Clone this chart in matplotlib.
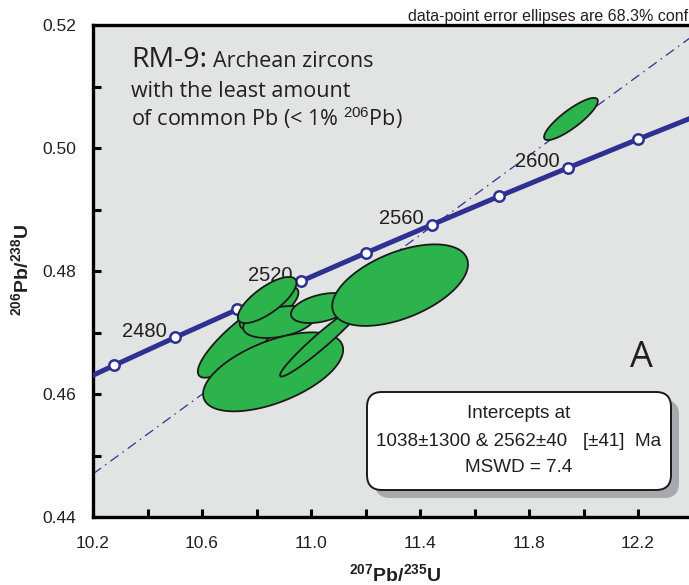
import numpy as np
import matplotlib
matplotlib.use("Agg")
import matplotlib.pyplot as plt
from matplotlib.patches import FancyBboxPatch
from matplotlib.ticker import FixedLocator, NullFormatter

# ---------------- data ----------------
# Concordia curve (ages in Ma) and its 207Pb/235U, 206Pb/238U coordinates
conc_age = [2440, 2460, 2480, 2500, 2520, 2540, 2560, 2580, 2600, 2620, 2640]
conc_x = [10.057, 10.277, 10.501, 10.730, 10.963, 11.201, 11.444, 11.691, 11.944, 12.201, 12.464]
conc_y = [0.46010, 0.46464, 0.46919, 0.47375, 0.47833, 0.48293, 0.48753, 0.49216, 0.49679, 0.50144, 0.50610]
marker_ages = [2460, 2480, 2500, 2520, 2540, 2560, 2580, 2600, 2620]
label_ages = [2480, 2520, 2560, 2600]

# Discordia (regression) line end points
disc_x = [10.2, 12.4]
disc_y = [0.4470, 0.5182]

# Error ellipses: centre, half-extent in x and y, correlation (drawing order)
ell_cx = [10.758, 10.846, 10.883, 10.839, 10.861, 11.040, 11.040, 11.327, 11.954]
ell_cy = [0.46927, 0.47398, 0.47171, 0.47528, 0.46360, 0.46878, 0.47398, 0.47770, 0.50472]
ell_hx = [0.1732, 0.1079, 0.1320, 0.1075, 0.2570, 0.1534, 0.1138, 0.2490, 0.0987]
ell_hy = [0.00662, 0.00350, 0.00260, 0.003756, 0.00642, 0.00593, 0.00244, 0.00663, 0.00343]
ell_rho = [0.849, 0.713, 0.35, 0.742, 0.56, 0.965, 0.40, 0.513, 0.854]

x_major = [10.2, 10.6, 11.0, 11.4, 11.8, 12.2]
x_minor = [10.4, 10.8, 11.2, 11.6, 12.0, 12.4]
y_major = [0.44, 0.46, 0.48, 0.50, 0.52]
y_minor = [0.45, 0.47, 0.49, 0.51]

title_text = "RM-9:"
subtitle_lines = ["Archean zircons", "with the least amount"]
box_lines = ["Intercepts at", "1038\u00b11300 & 2562\u00b140   [\u00b141]  Ma", "MSWD = 7.4"]
note_text = "data-point error ellipses are 68.3% conf."

# ---------------- style ----------------
W, H = 689, 585
NAVY = "#2e3192"
GREEN = "#2db34b"
BG = "#e2e3e3"
SANS = ["Liberation Sans", "DejaVu Sans"]
MYR = ["Open Sans", "DejaVu Sans"]
INK = "#231f20"

plt.rcParams["mathtext.fontset"] = "custom"
plt.rcParams["mathtext.rm"] = "Liberation Sans"
plt.rcParams["mathtext.bf"] = "Liberation Sans:bold"

fig = plt.figure(figsize=(W / 100, H / 100), dpi=100)

def fx(px):
    return px / W

def fy(py):
    return 1 - py / H

# axes: left spine at px 93, bottom at 517, top at 25; extends past right edge
ax_left, ax_bottom, ax_top = 93, 517, 25
x0, x1 = 10.2, 12.6
px_per_unit = 272.5
ax_w = (x1 - x0) * px_per_unit
ax = fig.add_axes([fx(ax_left), fy(ax_bottom), ax_w / W, (ax_bottom - ax_top) / H])
ax.set_xlim(x0, x1)
ax.set_ylim(0.44, 0.52)
ax.set_facecolor(BG)
for s in ["left", "bottom", "top"]:
    ax.spines[s].set_linewidth(2.4)
ax.spines["right"].set_visible(False)

ax.xaxis.set_major_locator(FixedLocator(x_major))
ax.xaxis.set_minor_locator(FixedLocator(x_minor))
ax.yaxis.set_major_locator(FixedLocator(y_major))
ax.yaxis.set_minor_locator(FixedLocator(y_minor))
ax.set_xticklabels([f"{v:.1f}" for v in x_major], fontfamily=SANS, fontsize=12.5, color=INK)
ax.set_yticklabels([f"{v:.2f}" for v in y_major], fontfamily=SANS, fontsize=12.5, color=INK)
ax.xaxis.set_minor_formatter(NullFormatter())
ax.yaxis.set_minor_formatter(NullFormatter())
ax.tick_params(which="both", direction="in", length=6, width=2.2, color="black")
ax.tick_params(axis="y", which="both", pad=12)
ax.tick_params(axis="x", which="both", pad=14)

# discordia
ax.plot(disc_x, disc_y, color=NAVY, lw=0.9, dashes=(8, 4, 1.2, 4), zorder=2)

# concordia
ax.plot(conc_x, conc_y, color=NAVY, lw=3.6, solid_capstyle="butt", zorder=3)
mx = [conc_x[conc_age.index(a)] for a in marker_ages]
my = [conc_y[conc_age.index(a)] for a in marker_ages]
ax.plot(mx, my, "o", ms=7.5, mfc="white", mec=NAVY, mew=1.8, zorder=4, clip_on=False)
for a in label_ages:
    i = conc_age.index(a)
    ax.annotate(str(a), (conc_x[i], conc_y[i]), xytext=(-6, 4.5), textcoords="offset points",
                ha="right", va="center", fontsize=14.5, fontfamily=SANS, color=INK, zorder=3.5)

# ellipses
t = np.linspace(0, 2 * np.pi, 240)
for k in range(len(ell_cx)):
    ex = ell_cx[k] + ell_hx[k] * np.cos(t)
    ey = ell_cy[k] + ell_hy[k] * (ell_rho[k] * np.cos(t) + np.sqrt(1 - ell_rho[k] ** 2) * np.sin(t))
    ax.fill(ex, ey, facecolor=GREEN, edgecolor="#1a1a1a", lw=1.3, zorder=5 + k * 0.01)

# labels of axes
fig.text(fx(22), fy(270), r"$^{\mathbf{206}}$Pb/$^{\mathbf{238}}$U", rotation=90, ha="center", va="center",
         fontsize=14, fontweight="bold", fontfamily=SANS, color=INK)
fig.text(fx(395), fy(575), r"$^{\mathbf{207}}$Pb/$^{\mathbf{235}}$U", ha="center", va="center",
         fontsize=14, fontweight="bold", fontfamily=SANS, color=INK)

# top note (runs to the right edge, as in the source)
fig.text(fx(408), fy(16), note_text, ha="left", va="center", fontsize=11.5, fontfamily=SANS, color=INK)

# in-plot title
fig.text(fx(131), fy(67), title_text, ha="left", va="baseline", fontsize=20.5, fontfamily=MYR, color=INK)
fig.text(fx(213), fy(67), subtitle_lines[0], ha="left", va="baseline", fontsize=15.5, fontfamily=MYR, color=INK)
fig.text(fx(131), fy(97), subtitle_lines[1], ha="left", va="baseline", fontsize=15.5, fontfamily=MYR, color=INK)
fig.text(fx(131), fy(126), r"of common Pb (< 1% $^{206}$Pb)", ha="left", va="baseline", fontsize=15.5,
         fontfamily=MYR, color=INK)

# big panel letter
fig.text(fx(641), fy(367), "A", ha="center", va="baseline", fontsize=26, fontfamily=MYR, color=INK)

# intercept box with shadow
bx0, by0, bx1, by1 = 367, 392, 671, 490
shadow = FancyBboxPatch(((bx0 + 8) / 100, (H - by1 - 8) / 100), (bx1 - bx0) / 100, (by1 - by0) / 100,
                        boxstyle="round,pad=0,rounding_size=0.15", transform=fig.dpi_scale_trans,
                        facecolor="#a7a9ac", edgecolor="none", zorder=10)
box = FancyBboxPatch((bx0 / 100, (H - by1) / 100), (bx1 - bx0) / 100, (by1 - by0) / 100,
                     boxstyle="round,pad=0,rounding_size=0.15", transform=fig.dpi_scale_trans,
                     facecolor="white", edgecolor="#1a1a1a", lw=1.4, zorder=11)
fig.patches.extend([shadow, box])
for j, s in enumerate(box_lines):
    fig.text(fx(519), fy(414 + 27 * j), s, ha="center", va="center", fontsize=13.6, fontfamily=SANS,
             color=INK, zorder=12)

fig.savefig("out.png", dpi=100)
